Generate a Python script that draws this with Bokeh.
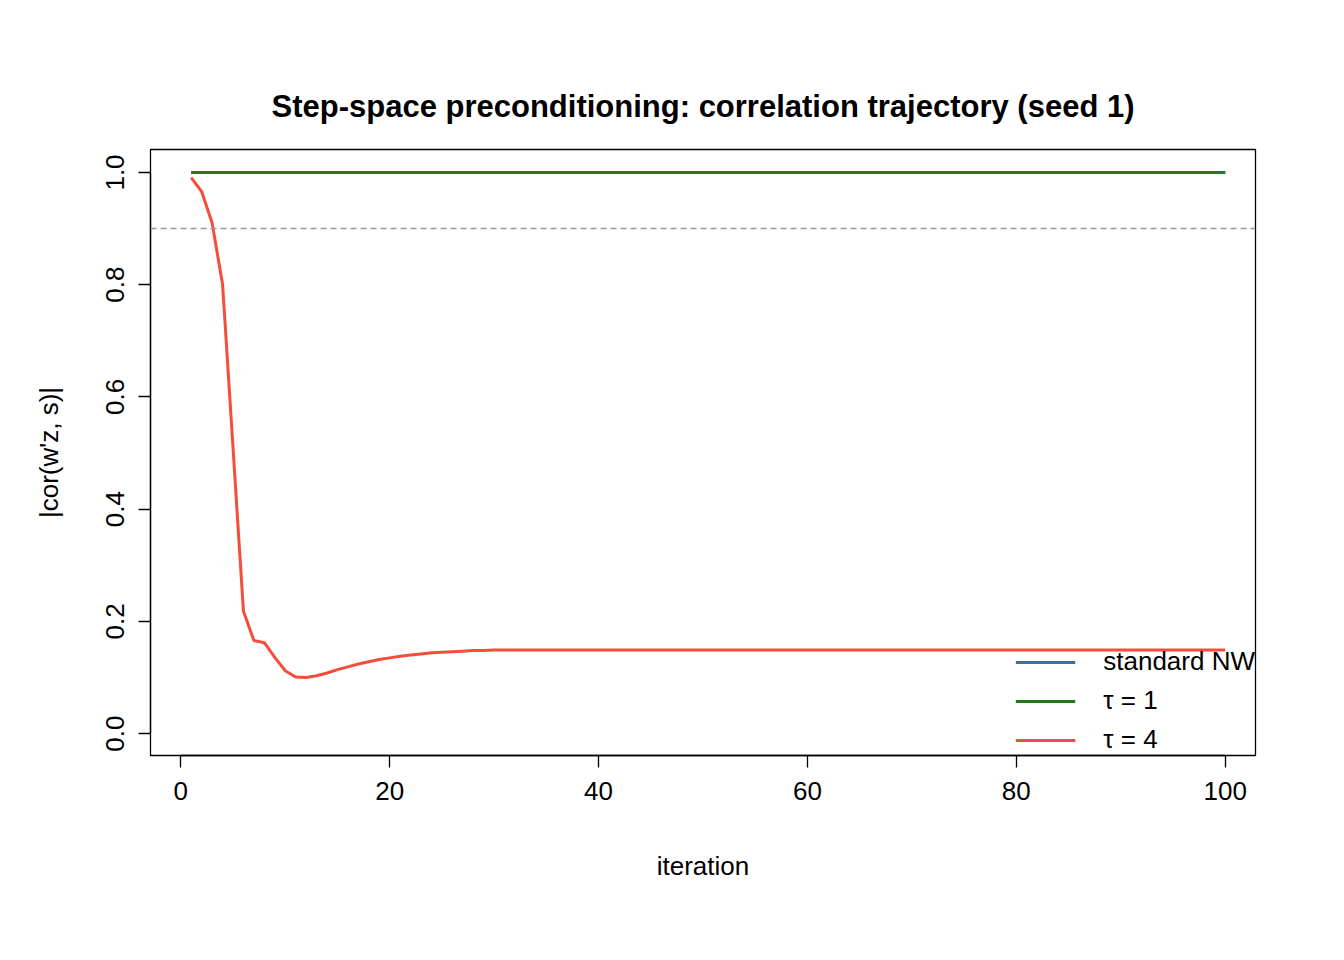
from bokeh.plotting import figure
from bokeh.models import Range1d, Span, Legend, LegendItem, FixedTicker, CustomJSTickFormatter
from bokeh.embed import file_html
from bokeh.resources import INLINE

iters = list(range(1, 101))
standard_nw = [1.0] * 100
tau1 = [1.0] * 100
tau4_head = [0.991, 0.966, 0.910, 0.801, 0.51, 0.218, 0.166, 0.162, 0.136, 0.112,
             0.101, 0.100, 0.103, 0.108, 0.114, 0.119, 0.124, 0.128, 0.132, 0.135,
             0.138, 0.140, 0.142, 0.144, 0.145, 0.146, 0.147, 0.148, 0.148, 0.149]
tau4 = tau4_head + [0.149] * (100 - len(tau4_head))

F = "Liberation Sans"
p = figure(width=1328, height=944, output_backend="svg", toolbar_location=None,
           x_range=Range1d(-2.9, 102.9), y_range=Range1d(-0.039, 1.041),
           min_border_left=150, min_border_right=73, min_border_top=149, min_border_bottom=189)
p.title.text = "Step-space preconditioning: correlation trajectory (seed 1)"
p.title.align = "center"
p.title.text_font = F
p.title.text_font_size = "31px"
p.title.text_font_style = "bold"
p.title.text_color = "black"
p.title.standoff = 52
p.title.offset = 30
p.grid.visible = False
p.outline_line_color = "black"
p.outline_line_width = 1.3

for ax in (p.xaxis[0], p.yaxis[0]):
    ax.major_label_text_font = F
    ax.major_label_text_font_size = "26px"
    ax.major_label_text_color = "black"
    ax.axis_label_text_font = F
    ax.axis_label_text_font_size = "26px"
    ax.axis_label_text_font_style = "normal"
    ax.axis_label_text_color = "black"
    ax.minor_tick_line_color = None
    ax.major_tick_in = 0
    ax.major_tick_out = 12
    ax.major_label_standoff = 14
    ax.major_tick_line_width = 1.3
    ax.axis_line_width = 1.3
p.xaxis[0].ticker = FixedTicker(ticks=[0, 20, 40, 60, 80, 100])
p.yaxis[0].ticker = FixedTicker(ticks=[0, 0.2, 0.4, 0.6, 0.8, 1.0])
p.xaxis[0].bounds = (0, 100)
p.yaxis[0].bounds = (0, 1)
p.xaxis[0].axis_label = "iteration"
p.yaxis[0].axis_label = "|cor(w'z, s)|"
p.yaxis[0].major_label_orientation = "vertical"
p.xaxis[0].axis_label_standoff = 48
p.yaxis[0].axis_label_standoff = 40
p.yaxis[0].formatter = CustomJSTickFormatter(code="return tick.toFixed(1);")

p.add_layout(Span(location=0.9, dimension="width", line_color="#999999",
                  line_dash="6 4", line_width=1.5))

r1 = p.line(iters, standard_nw, line_color="#3a6ea5", line_width=3)
r2 = p.line(iters, tau1, line_color="#1f7a1f", line_width=3)
r3 = p.line(iters, tau4, line_color="#f54d3a", line_width=3)

leg = Legend(items=[LegendItem(label="standard NW", renderers=[r1]),
                    LegendItem(label="τ = 1", renderers=[r2]),
                    LegendItem(label="τ = 4", renderers=[r3])],
             location="bottom_right", background_fill_alpha=0, border_line_color=None,
             label_text_font=F, label_text_font_size="26px", label_text_color="black",
             glyph_width=60, glyph_height=30, spacing=8, label_standoff=28,
             margin=0, padding=12)
p.add_layout(leg)

open("out.html", "w").write(file_html(p, INLINE))
